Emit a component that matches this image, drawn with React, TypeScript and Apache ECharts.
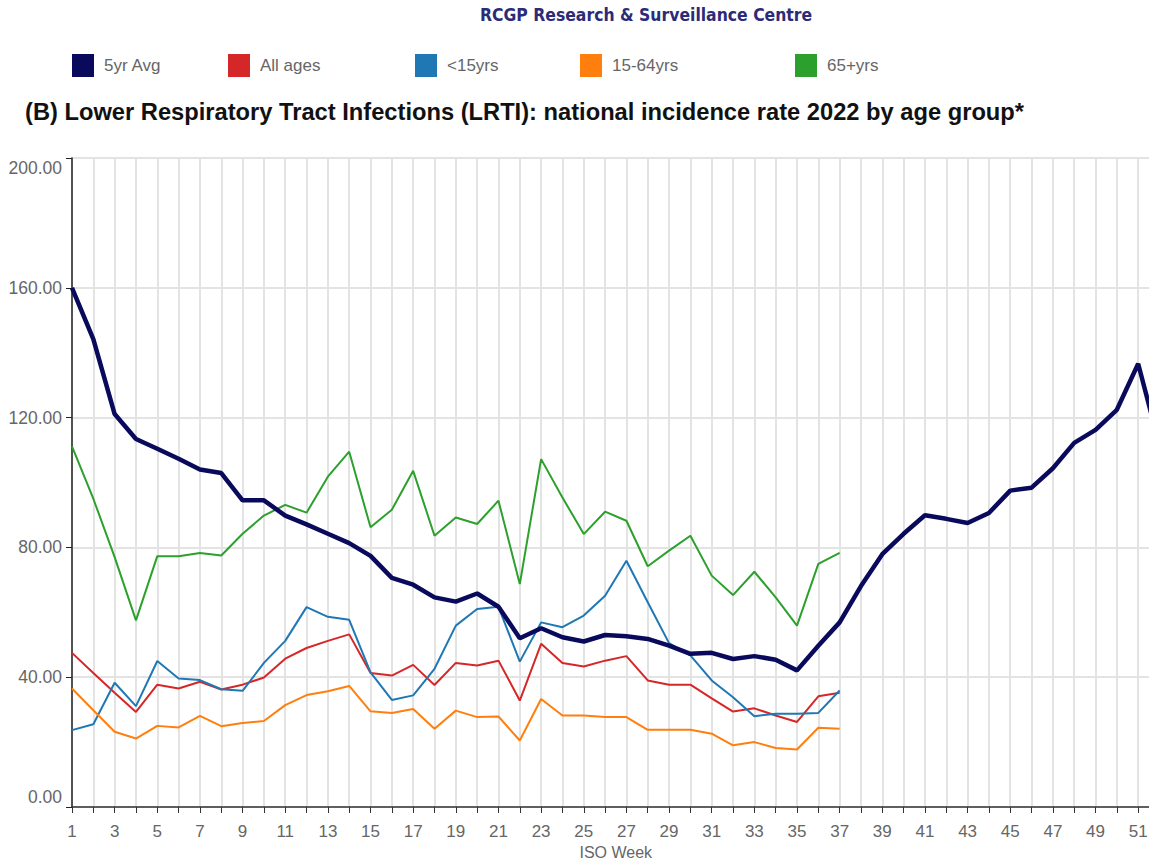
import React, { useEffect, useRef } from "react";
import * as echarts from "echarts";

const weeks: string[] = Array.from({ length: 52 }, (_, i) => String(i + 1));

const avg5yr = [160.0, 144.2, 121.1, 113.4, 110.4, 107.3, 104.0, 102.9, 94.5, 94.5, 89.8, 87.1, 84.2, 81.3, 77.4, 70.6, 68.5, 64.6, 63.3, 65.8, 61.7, 52.0, 55.1, 52.3, 51.0, 53.0, 52.6, 51.8, 49.7, 47.2, 47.5, 45.6, 46.5, 45.4, 42.1, 49.7, 56.9, 68.1, 77.9, 84.2, 89.9, 88.8, 87.5, 90.6, 97.5, 98.4, 104.4, 112.2, 116.2, 122.4, 136.6, 111.5];

const allAges = [47.5, 41.3, 35.2, 29.3, 37.7, 36.5, 38.6, 36.2, 37.7, 39.9, 45.7, 49.0, 51.2, 53.2, 41.3, 40.5, 43.8, 37.6, 44.4, 43.6, 45.1, 32.8, 50.3, 44.4, 43.3, 45.1, 46.5, 39.0, 37.7, 37.7, 33.5, 29.4, 30.4, 28.2, 26.2, 34.1, 35.2];

const under15 = [23.7, 25.5, 38.3, 31.1, 45.0, 39.6, 39.1, 36.3, 35.8, 44.4, 51.2, 61.6, 58.6, 57.7, 41.5, 33.0, 34.4, 42.6, 55.9, 61.0, 61.7, 44.8, 56.9, 55.4, 59.0, 65.1, 75.9, 63.1, 50.5, 46.7, 39.0, 33.8, 28.0, 28.7, 28.7, 29.0, 35.9];

const age15to64 = [36.5, 29.8, 23.2, 21.1, 25.0, 24.5, 28.1, 24.9, 25.9, 26.5, 31.4, 34.5, 35.7, 37.3, 29.5, 29.0, 30.2, 24.1, 29.7, 27.7, 27.9, 20.5, 33.3, 28.2, 28.2, 27.7, 27.7, 23.8, 23.8, 23.8, 22.6, 19.0, 20.0, 18.2, 17.7, 24.4, 24.1];

const age65plus = [111.1, 95.0, 77.0, 57.5, 77.3, 77.3, 78.3, 77.5, 84.2, 89.8, 93.1, 90.7, 101.8, 109.5, 86.2, 91.6, 103.6, 83.6, 89.2, 87.2, 94.4, 68.7, 107.2, 95.4, 84.1, 91.0, 88.2, 74.2, 79.0, 83.6, 71.3, 65.3, 72.5, 64.6, 55.9, 74.9, 78.3];

const seriesNames = ["5yr Avg", "All ages", "<15yrs", "15-64yrs", "65+yrs"];
const seriesColors = ["#0a0a5c", "#d62728", "#1f77b4", "#ff7f0e", "#2ca02c"];
const seriesData = [avg5yr, allAges, under15, age15to64, age65plus];
const legendLefts = [72, 228, 415, 580, 795];

const FONT = "'Liberation Sans', Arial, sans-serif";
const LABEL_SIZE = 17;

export default function App() {
  const ref = useRef<HTMLDivElement>(null);
  useEffect(() => {
    if (!ref.current) return;
    const chart = echarts.init(ref.current, null, { renderer: "svg" });
    const option: any = {
      animation: false,
      backgroundColor: "#ffffff",
      title: [
        {
          text: "RCGP Research & Surveillance Centre",
          left: 480,
          top: 6,
          padding: 0,
          textStyle: {
            fontFamily: "'Liberation Sans Narrow', 'DejaVu Sans Condensed', " + FONT,
            fontSize: 17.4,
            fontWeight: "bold",
            color: "#2b2b78",
          },
        },
        {
          text: "(B) Lower Respiratory Tract Infections (LRTI): national incidence rate 2022 by age group*",
          left: 25,
          top: 100,
          padding: 0,
          textStyle: {
            fontFamily: FONT,
            fontSize: 23.7,
            fontWeight: "bold",
            color: "#111111",
          },
        },
      ],
      legend: seriesNames.map((name, i) => ({
        data: [name],
        left: legendLefts[i],
        top: 54,
        padding: 0,
        icon: "rect",
        itemWidth: 22,
        itemHeight: 23,
        selectedMode: false,
        textStyle: {
          fontFamily: FONT,
          fontSize: 17,
          color: "#666666",
          padding: [0, 0, 0, 5],
        },
      })),
      grid: {
        left: 72,
        top: 158,
        right: 0.5,
        bottom: 54,
        containLabel: false,
        outerBoundsMode: "none",
      },
      xAxis: {
        type: "category",
        data: weeks,
        boundaryGap: false,
        name: "ISO Week",
        nameLocation: "middle",
        nameGap: 36,
        nameTextStyle: { fontFamily: FONT, fontSize: 16, color: "#666666" },
        axisLine: { lineStyle: { color: "#333333", width: 1.5 } },
        axisTick: { show: true, interval: 0, length: 6, lineStyle: { color: "#333333" } },
        axisLabel: {
          interval: 1,
          margin: 16,
          fontFamily: FONT,
          fontSize: LABEL_SIZE,
          color: "#666666",
        },
        splitLine: { show: true, interval: 0, lineStyle: { color: "#e3e3e3", width: 2 } },
      },
      yAxis: {
        type: "value",
        min: 0,
        max: 200,
        interval: 40,
        axisLine: { show: true, lineStyle: { color: "#222222", width: 1.5 } },
        axisTick: { show: true, length: 6, lineStyle: { color: "#222222" } },
        axisLabel: {
          margin: 10,
          fontFamily: FONT,
          fontSize: 17.5,
          color: "#666666",
          formatter: (v: number) => {
            const s = v.toFixed(2);
            if (v === 0) return "{lo|" + s + "}";
            if (v === 200) return "{hi|" + s + "}";
            return s;
          },
          rich: {
            lo: { fontFamily: FONT, fontSize: 17.5, color: "#666666", padding: [0, 0, 20, 0] },
            hi: { fontFamily: FONT, fontSize: 17.5, color: "#666666", padding: [20, 0, 0, 0] },
          },
        },
        splitLine: { show: true, lineStyle: { color: "#e3e3e3", width: 2 } },
      },
      series: seriesNames.map((name, i) => ({
        name,
        type: "line",
        data: seriesData[i],
        symbol: "none",
        smooth: false,
        color: seriesColors[i],
        lineStyle: { width: i === 0 ? 4.5 : 2, color: seriesColors[i] },
        z: i === 0 ? 3 : 2,
      })),
    };
    chart.setOption(option);
    return () => chart.dispose();
  }, []);
  return (
    <div
      style={{
        position: "fixed",
        left: 0,
        top: 0,
        width: 1149,
        height: 861,
        overflow: "hidden",
        background: "#fff",
      }}
    >
      <div ref={ref} style={{ width: 1160, height: 861 }} />
    </div>
  );
}
